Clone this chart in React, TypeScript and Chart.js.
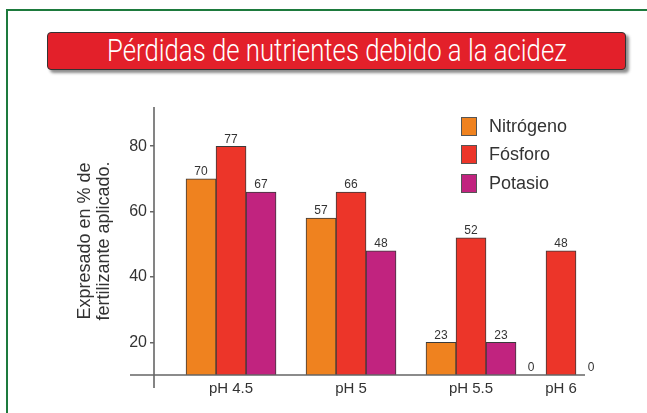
import React, { useEffect, useRef } from "react";
import { Chart, registerables } from "chart.js";

Chart.register(...registerables);

const titleText = "Pérdidas de nutrientes debido a la acidez";
const categories = ["pH 4.5", "pH 5", "pH 5.5", "pH 6"];
const categoryPositions = [0, 1, 2, 2.75];
const seriesNames = ["Nitrógeno", "Fósforo", "Potasio"];
const seriesColors = ["#EF821F", "#EC3529", "#C1237F"];
const nitrogeno = [70, 58, 20, 0];
const fosforo = [80, 66, 52, 48];
const potasio = [66, 48, 20, 0];
const nitrogenoLabels = ["70", "57", "23", "0"];
const fosforoLabels = ["77", "66", "52", "48"];
const potasioLabels = ["67", "48", "23", "0"];
const yTicks = [20, 40, 60, 80];
const yTitle = ["Expresado en % de", "fertilizante aplicado."];

const FONT = "'Liberation Sans', Arial, Helvetica, sans-serif";

const seriesValues = [nitrogeno, fosforo, potasio];
const seriesLabels = [nitrogenoLabels, fosforoLabels, potasioLabels];

const labelPlugin = {
  id: "barLabels",
  afterDatasetsDraw(chart: any) {
    const ctx = chart.ctx;
    ctx.save();
    ctx.font = `12px ${FONT}`;
    ctx.fillStyle = "#333";
    ctx.textAlign = "center";
    ctx.textBaseline = "bottom";
    chart.data.datasets.forEach((ds: any, di: number) => {
      const meta = chart.getDatasetMeta(di);
      meta.data.forEach((bar: any, i: number) => {
        const top = Math.min(bar.y, bar.base, chart.chartArea.bottom);
        ctx.fillText(ds.valueLabels[i], bar.x, top - 1);
      });
    });
    ctx.restore();
  },
};

const axisPlugin = {
  id: "axisLines",
  afterDraw(chart: any) {
    const { ctx, chartArea } = chart;
    ctx.save();
    ctx.strokeStyle = "#666";
    ctx.lineWidth = 1.6;
    ctx.beginPath();
    ctx.moveTo(chartArea.left, chartArea.top);
    ctx.lineTo(chartArea.left, chartArea.bottom + 13);
    ctx.moveTo(chartArea.left - 24, chartArea.bottom);
    ctx.lineTo(chartArea.right, chartArea.bottom);
    ctx.stroke();
    ctx.restore();
  },
};

export default function App() {
  const canvasRef = useRef<HTMLCanvasElement | null>(null);

  useEffect(() => {
    if (!canvasRef.current) return;
    const chart = new Chart(canvasRef.current, {
      type: "bar",
      data: {
        datasets: seriesNames.map((name, si) => ({
          label: name,
          data: seriesValues[si].map((v, i) => ({ x: categoryPositions[i], y: v })),
          valueLabels: seriesLabels[si],
          backgroundColor: seriesColors[si],
          borderColor: "#3a3a3a",
          borderWidth: 1,
          barThickness: 30,
        })) as any,
      },
      options: {
        animation: false,
        responsive: false,
        maintainAspectRatio: false,
        layout: { padding: { left: 70, top: 107, right: 62, bottom: 0 } },
        plugins: {
          legend: { display: false },
          tooltip: { enabled: false },
        },
        scales: {
          x: {
            type: "linear",
            min: -0.642,
            max: 2.95,
            offset: false,
            afterBuildTicks: (scale: any) => {
              scale.ticks = categoryPositions.map((v) => ({ value: v }));
            },
            afterFit: (scale: any) => {
              scale.height = 38;
            },
            ticks: {
              autoSkip: false,
              maxRotation: 0,
              padding: 5,
              color: "#333",
              font: { family: FONT, size: 15 },
              callback: (value: any) => {
                const idx = categoryPositions.indexOf(Number(value));
                return idx >= 0 ? categories[idx] : "";
              },
            },
            grid: { display: false, drawTicks: false },
            border: { display: false },
          },
          y: {
            min: 10,
            max: 92,
            afterBuildTicks: (scale: any) => {
              scale.ticks = yTicks.map((v) => ({ value: v }));
            },
            afterFit: (scale: any) => {
              scale.width = 84;
            },
            ticks: {
              padding: 3,
              color: "#333",
              font: { family: FONT, size: 16 },
            },
            grid: {
              drawOnChartArea: false,
              drawTicks: true,
              tickLength: 4,
              color: "#666",
              lineWidth: 1.5,
            },
            border: { display: false },
            title: {
              display: true,
              text: yTitle,
              color: "#333",
              font: { family: FONT, size: 18, lineHeight: 1.05 },
              padding: { top: 6, bottom: 0 },
            },
          },
        },
      } as any,
      plugins: [labelPlugin, axisPlugin],
    });
    return () => chart.destroy();
  }, []);

  return (
    <div
      style={{
        position: "fixed",
        left: 0,
        top: 0,
        width: 647,
        height: 413,
        background: "#fff",
        overflow: "hidden",
        fontFamily: FONT,
      }}
    >
      <div
        style={{
          position: "absolute",
          left: 6,
          top: 9,
          width: 700,
          height: 500,
          borderLeft: "2px solid #1d7a3d",
          borderTop: "2px solid #1d7a3d",
        }}
      />
      <div
        style={{
          position: "absolute",
          left: 47,
          top: 32,
          width: 577,
          height: 36,
          background: "#E3202A",
          border: "1px solid #333",
          borderRadius: 4,
          boxShadow: "3px 3px 3px rgba(0,0,0,0.45)",
          display: "flex",
          alignItems: "center",
          justifyContent: "center",
          overflow: "visible",
        }}
      >
        <span
          style={{
            display: "inline-block",
            color: "#fff",
            fontFamily: "Roboto, 'Liberation Sans', sans-serif",
            fontWeight: 300,
            fontSize: 31,
            lineHeight: "36px",
            whiteSpace: "nowrap",
            transform: "scaleX(0.83)",
            transformOrigin: "center",
          }}
        >
          {titleText}
        </span>
      </div>
      <canvas
        ref={canvasRef}
        width={647}
        height={413}
        style={{ position: "absolute", left: 0, top: 0, width: 647, height: 413 }}
      />
      <div style={{ position: "absolute", left: 461, top: 117 }}>
        {seriesNames.map((name, i) => (
          <div
            key={name}
            style={{
              display: "flex",
              alignItems: "center",
              height: 28.5,
              marginTop: i === 0 ? -5 : 0,
            }}
          >
            <div
              style={{
                width: 14,
                height: 17,
                background: seriesColors[i],
                border: "1px solid #555",
              }}
            />
            <span
              style={{
                marginLeft: 12,
                fontSize: 18,
                color: "#333",
                fontFamily: FONT,
              }}
            >
              {name}
            </span>
          </div>
        ))}
      </div>
    </div>
  );
}
